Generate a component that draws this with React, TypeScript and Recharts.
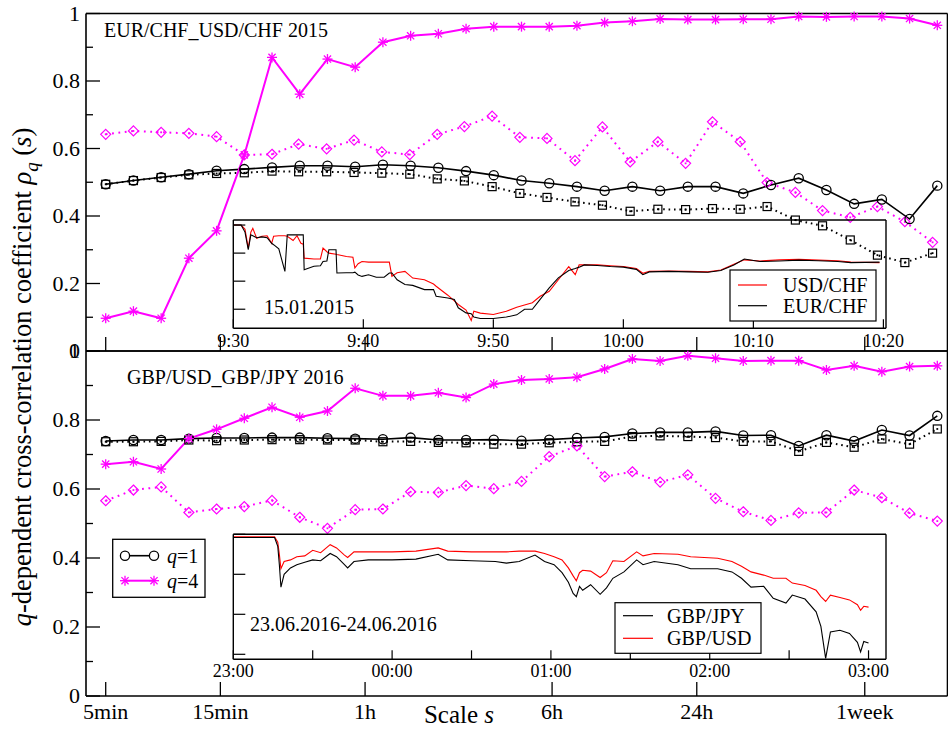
import React from 'react';
import { LineChart, Line, XAxis, YAxis } from 'recharts';

const W = 948;
const H = 731;
const FONT = '"Liberation Serif", "Times New Roman", serif';
const MAGENTA = '#ff00ff';
const RED = '#ff0000';
const AX = 0.5; // thickness reserved for each axis (must be > 0 for Recharts to draw it)

// ---------- main panels: scale index categories ----------
const SCALE_IDX = Array.from({ length: 31 }, (_, i) => i);
// x positions of the dotted series in the 2015 panel (slightly left of the grid)
const TOP_DOTTED_IDX = [0, 1, 2, 3, 4, 5, 6, 6.96, 7.97, 8.96, 9.96, 10.97, 11.96, 12.94, 13.94, 14.94, 15.92, 16.93, 17.92, 18.92, 19.92, 20.92, 21.89, 22.89, 23.86, 24.88, 25.86, 26.86, 27.84, 28.83, 29.83];

const X_TICK_MINUTES = [5, 15, 60, 360, 1440, 7200];
const X_TICK_LABELS = ['5min', '15min', '1h', '6h', '24h', '1week'];
const IDX_PER_DECADE = 8.67;
const X_TICK_IDX = X_TICK_MINUTES.map((m) => Math.log10(m / 5) * IDX_PER_DECADE);

const MAIN_Y_TICKS = [0, 0.1, 0.2, 0.3, 0.4, 0.5, 0.6, 0.7, 0.8, 0.9, 1];
const MAIN_Y_LABELED = [0, 0.2, 0.4, 0.6, 0.8, 1];

// EUR/CHF_USD/CHF 2015
const TOP_Q1 = [0.494, 0.505, 0.515, 0.524, 0.534, 0.539, 0.544, 0.549, 0.549, 0.546, 0.552, 0.549, 0.543, 0.533, 0.521, 0.505, 0.497, 0.487, 0.475, 0.487, 0.475, 0.487, 0.487, 0.467, 0.492, 0.512, 0.477, 0.436, 0.449, 0.391, 0.490];
const TOP_Q1_DOTTED = [0.494, 0.505, 0.514, 0.522, 0.526, 0.528, 0.533, 0.531, 0.531, 0.529, 0.527, 0.524, 0.510, 0.504, 0.487, 0.467, 0.455, 0.442, 0.432, 0.414, 0.420, 0.419, 0.422, 0.420, 0.428, 0.388, 0.371, 0.329, 0.284, 0.262, 0.290];
const TOP_Q4 = [0.097, 0.118, 0.097, 0.275, 0.356, 0.581, 0.870, 0.761, 0.865, 0.841, 0.915, 0.934, 0.940, 0.955, 0.961, 0.961, 0.961, 0.964, 0.973, 0.977, 0.984, 0.982, 0.982, 0.983, 0.983, 0.991, 0.990, 0.991, 0.991, 0.985, 0.965];
const TOP_Q4_DOTTED = [0.642, 0.652, 0.648, 0.645, 0.635, 0.581, 0.583, 0.613, 0.599, 0.625, 0.590, 0.582, 0.642, 0.665, 0.696, 0.633, 0.630, 0.564, 0.664, 0.560, 0.620, 0.556, 0.679, 0.620, 0.499, 0.470, 0.416, 0.396, 0.428, 0.383, 0.322];

// GBP/USD_GBP/JPY 2016
const BOT_Q1 = [0.739, 0.742, 0.742, 0.746, 0.748, 0.748, 0.749, 0.749, 0.747, 0.746, 0.744, 0.749, 0.742, 0.742, 0.743, 0.740, 0.743, 0.748, 0.751, 0.761, 0.764, 0.764, 0.767, 0.755, 0.756, 0.725, 0.756, 0.739, 0.771, 0.755, 0.812];
const BOT_Q1_DOTTED = [0.737, 0.737, 0.738, 0.742, 0.740, 0.742, 0.743, 0.743, 0.742, 0.742, 0.737, 0.738, 0.735, 0.734, 0.730, 0.730, 0.734, 0.737, 0.738, 0.752, 0.754, 0.752, 0.749, 0.738, 0.738, 0.709, 0.735, 0.721, 0.745, 0.730, 0.774];
const BOT_Q4 = [0.672, 0.679, 0.658, 0.746, 0.773, 0.805, 0.837, 0.808, 0.826, 0.892, 0.870, 0.870, 0.879, 0.865, 0.904, 0.916, 0.919, 0.924, 0.948, 0.977, 0.971, 0.986, 0.979, 0.971, 0.972, 0.972, 0.945, 0.957, 0.940, 0.955, 0.957];
const BOT_Q4_DOTTED = [0.566, 0.597, 0.606, 0.532, 0.542, 0.549, 0.567, 0.518, 0.486, 0.540, 0.542, 0.592, 0.590, 0.610, 0.601, 0.622, 0.694, 0.725, 0.636, 0.650, 0.620, 0.641, 0.573, 0.534, 0.509, 0.531, 0.532, 0.597, 0.575, 0.530, 0.507];

// ---------- inset 1: 15.01.2015, minutes after 9:30 ----------
const INSET1_MIN = [0, 0.6, 0.9, 1.15, 1.35, 1.5, 1.8, 2.2, 2.6, 2.95, 3.1, 3.5, 3.97, 4.15, 4.6, 4.9, 5.2, 5.38, 5.45, 6.2, 6.7, 6.9, 7.2, 7.35, 7.9, 7.97, 8.7, 9.2, 9.35, 9.6, 9.9, 10.4, 11.0, 11.6, 12.0, 12.2, 12.6, 13.2, 13.8, 14.7, 15.4, 15.6, 16.5, 17.0, 17.3, 17.9, 18.3, 18.5, 19.0, 20.0, 21.0, 21.8, 22.4, 23.0, 23.6, 24.3, 25.0, 25.8, 26.3, 26.6, 27.0, 28.0, 29.0, 30.0, 31.0, 31.5, 32.0, 33.5, 35.0, 36.5, 37.5, 38.5, 39.3, 40.5, 42.0, 43.5, 45.0, 46.5, 47.5, 49.7];
const INSET1_EURCHF = [1.0, 1.0, 0.975, 0.912, 0.965, 0.962, 0.955, 0.958, 0.955, 0.935, 0.93, 0.915, 0.835, 0.965, 0.965, 0.965, 0.965, 0.965, 0.841, 0.853, 0.855, 0.87, 0.872, 0.912, 0.912, 0.829, 0.83, 0.83, 0.832, 0.822, 0.817, 0.823, 0.814, 0.814, 0.829, 0.829, 0.805, 0.788, 0.785, 0.77, 0.77, 0.746, 0.74, 0.735, 0.705, 0.687, 0.684, 0.672, 0.667, 0.667, 0.672, 0.68, 0.7, 0.7, 0.735, 0.776, 0.812, 0.838, 0.845, 0.85, 0.858, 0.856, 0.852, 0.85, 0.842, 0.823, 0.833, 0.835, 0.833, 0.832, 0.838, 0.858, 0.879, 0.87, 0.872, 0.875, 0.873, 0.87, 0.866, 0.868];
const INSET1_USDCHF = [1.0, 1.0, 0.985, 0.918, 0.975, 0.988, 0.953, 0.96, 0.962, 0.935, 0.96, 0.962, 0.962, 0.96, 0.945, 0.962, 0.935, 0.932, 0.882, 0.879, 0.879, 0.918, 0.905, 0.9, 0.896, 0.895, 0.888, 0.885, 0.847, 0.862, 0.87, 0.868, 0.868, 0.868, 0.868, 0.817, 0.83, 0.835, 0.811, 0.805, 0.79, 0.782, 0.75, 0.73, 0.717, 0.697, 0.66, 0.693, 0.686, 0.681, 0.693, 0.707, 0.715, 0.723, 0.746, 0.764, 0.805, 0.852, 0.823, 0.858, 0.858, 0.858, 0.855, 0.852, 0.845, 0.828, 0.835, 0.836, 0.835, 0.833, 0.84, 0.86, 0.876, 0.872, 0.876, 0.878, 0.875, 0.873, 0.868, 0.866];
const INSET1_X_TICKS = [0, 10, 20, 30, 40, 50];
const INSET1_X_LABELS = ['9:30', '9:40', '9:50', '10:00', '10:10', '10:20'];
const INSET1_Y_TICKS = [0.7, 0.8, 0.9, 1];
const INSET1_Y_LABELED = [0.8, 1];

// ---------- inset 2: 23.06.2016-24.06.2016, hours after 23:00 ----------
const INSET2_H = [0, 0.26, 0.28, 0.29, 0.3, 0.32, 0.36, 0.4, 0.45, 0.5, 0.55, 0.61, 0.65, 0.7, 0.72, 0.76, 0.85, 1.0, 1.15, 1.29, 1.35, 1.5, 1.65, 1.72, 1.8, 1.9, 1.96, 2.02, 2.07, 2.11, 2.14, 2.16, 2.18, 2.2, 2.25, 2.31, 2.35, 2.39, 2.46, 2.54, 2.58, 2.65, 2.8, 2.88, 3.05, 3.14, 3.2, 3.26, 3.34, 3.4, 3.48, 3.52, 3.6, 3.67, 3.7, 3.73, 3.76, 3.82, 3.88, 3.93, 3.95, 3.97, 4.0];
const INSET2_GBPJPY = [0.996, 0.996, 0.985, 0.962, 0.934, 0.95, 0.958, 0.962, 0.965, 0.968, 0.967, 0.976, 0.972, 0.962, 0.958, 0.966, 0.968, 0.968, 0.969, 0.975, 0.968, 0.967, 0.966, 0.964, 0.966, 0.974, 0.966, 0.962, 0.952, 0.94, 0.926, 0.922, 0.935, 0.93, 0.937, 0.925, 0.933, 0.945, 0.953, 0.968, 0.962, 0.966, 0.962, 0.957, 0.957, 0.953, 0.945, 0.934, 0.935, 0.92, 0.914, 0.924, 0.919, 0.903, 0.885, 0.845, 0.878, 0.88, 0.876, 0.865, 0.853, 0.866, 0.864];
const INSET2_GBPUSD = [0.997, 0.997, 0.99, 0.975, 0.957, 0.966, 0.968, 0.972, 0.973, 0.98, 0.977, 0.987, 0.983, 0.974, 0.971, 0.978, 0.978, 0.978, 0.979, 0.983, 0.979, 0.978, 0.978, 0.978, 0.979, 0.979, 0.976, 0.972, 0.968, 0.958, 0.948, 0.942, 0.952, 0.955, 0.954, 0.946, 0.952, 0.967, 0.966, 0.978, 0.973, 0.976, 0.975, 0.972, 0.97, 0.966, 0.96, 0.953, 0.949, 0.945, 0.945, 0.939, 0.936, 0.93, 0.922, 0.916, 0.924, 0.921, 0.918, 0.912, 0.905, 0.91, 0.909];
const INSET2_X_TICKS = [0, 0.5, 1, 1.5, 2, 2.5, 3, 3.5, 4];
const INSET2_X_LABELED: Record<string, string> = { '0': '23:00', '1': '00:00', '2': '01:00', '3': '02:00', '4': '03:00' };
const INSET2_Y_TICKS = [0.85, 0.9, 0.95, 1];
const INSET2_Y_LABELED = [0.9, 1];

// ---------- helpers ----------
const pts = (xs: number[], ys: number[]) => xs.map((x, i) => ({ x, y: ys[i] }));
const fmtY = (v: number) => (v === 0 ? '0' : v === 1 ? '1' : v.toFixed(1));
const near = (a: number, list: number[]) => list.some((b) => Math.abs(a - b) < 1e-6);

const CircleDot = (p: any) =>
  p.cx == null ? <g key={`c${p.index}`} /> : <circle key={`c${p.index}`} cx={p.cx} cy={p.cy} r={4.6} fill="none" stroke="#000" strokeWidth={1.3} />;
const SquareDot = (p: any) =>
  p.cx == null ? <g key={`s${p.index}`} /> : (
    <g key={`s${p.index}`}>
      <rect x={p.cx - 4} y={p.cy - 4} width={8} height={8} fill="none" stroke="#000" strokeWidth={1.2} />
      <rect x={p.cx - 0.9} y={p.cy - 0.9} width={1.8} height={1.8} fill="#000" />
    </g>
  );
const StarShape = ({ cx, cy, color }: { cx: number; cy: number; color: string }) => (
  <g stroke={color} strokeWidth={1.3}>
    <line x1={cx - 5} x2={cx + 5} y1={cy} y2={cy} />
    <line x1={cx} x2={cx} y1={cy - 5} y2={cy + 5} />
    <line x1={cx - 3.6} x2={cx + 3.6} y1={cy - 3.6} y2={cy + 3.6} />
    <line x1={cx - 3.6} x2={cx + 3.6} y1={cy + 3.6} y2={cy - 3.6} />
  </g>
);
const StarDot = (p: any) =>
  p.cx == null ? <g key={`t${p.index}`} /> : <g key={`t${p.index}`}><StarShape cx={p.cx} cy={p.cy} color={MAGENTA} /></g>;
const DiamondDot = (p: any) =>
  p.cx == null ? <g key={`d${p.index}`} /> : (
    <g key={`d${p.index}`}>
      <path d={`M${p.cx},${p.cy - 5} L${p.cx + 5},${p.cy} L${p.cx},${p.cy + 5} L${p.cx - 5},${p.cy} Z`} fill="none" stroke={MAGENTA} strokeWidth={1.2} />
      <rect x={p.cx - 0.9} y={p.cy - 0.9} width={1.8} height={1.8} fill={MAGENTA} />
    </g>
  );

type Series = { data: { x: number; y: number }[]; stroke: string; width: number; dash?: string; dot: any };

type PanelProps = {
  left: number; right: number; top: number; bottom: number;
  xDomain: [number, number]; yDomain: [number, number];
  xTicks: number[]; yTicks: number[];
  xTickTop: any; xTickBottom: any; yTickLeft: any; yTickRight: any;
  frameWidth: number;
  series: Series[];
};

function Panel(props: PanelProps) {
  const { left, right, top, bottom, xDomain, yDomain, xTicks, yTicks, frameWidth, series } = props;
  const axisLine = { stroke: '#000', strokeWidth: frameWidth };
  return (
    <div style={{ position: 'absolute', left: 0, top: 0, width: W, height: H }}>
      <LineChart width={W} height={H} margin={{ top: top - AX, bottom: H - bottom - AX, left: left - AX, right: W - right - AX }}>
        <XAxis xAxisId="b" type="number" dataKey="x" orientation="bottom" domain={xDomain} ticks={xTicks} interval={0} height={AX} axisLine={axisLine} tickLine={false} tick={props.xTickBottom} />
        <XAxis xAxisId="t" type="number" dataKey="x" orientation="top" domain={xDomain} ticks={xTicks} interval={0} height={AX} axisLine={axisLine} tickLine={false} tick={props.xTickTop} />
        <YAxis yAxisId="l" type="number" orientation="left" domain={yDomain} ticks={yTicks} interval={0} width={AX} axisLine={axisLine} tickLine={false} tick={props.yTickLeft} />
        <YAxis yAxisId="r" type="number" orientation="right" domain={yDomain} ticks={yTicks} interval={0} width={AX} axisLine={axisLine} tickLine={false} tick={props.yTickRight} />
        {series.map((s, i) => (
          <Line key={i} xAxisId="b" yAxisId="l" data={s.data} dataKey="y" type="linear" stroke={s.stroke} strokeWidth={s.width} strokeDasharray={s.dash} dot={s.dot} activeDot={false} isAnimationActive={false} />
        ))}
      </LineChart>
    </div>
  );
}

const coord = (p: any) => (p.payload && p.payload.coordinate != null ? p.payload.coordinate : p.x);
const coordY = (p: any) => (p.payload && p.payload.coordinate != null ? p.payload.coordinate : p.y);

// main panel ticks
const mainYTick = (edge: number, dir: 1 | -1, labels: boolean) => (p: any) => {
  const y = coordY(p);
  const v = p.payload.value;
  const major = near(v, MAIN_Y_LABELED);
  const len = major ? 14 : 7;
  return (
    <g>
      <line x1={edge} x2={edge + dir * len} y1={y} y2={y} stroke="#000" strokeWidth={1.3} />
      {labels && major && (
        <text x={edge - 6} y={y} dy="0.34em" textAnchor="end" fontFamily={FONT} fontSize={22} fill="#000">{fmtY(v)}</text>
      )}
    </g>
  );
};
const mainXTick = (edge: number, dir: 1 | -1, labels: boolean) => (p: any) => {
  const x = coord(p);
  const v = p.payload.value;
  const k = X_TICK_IDX.findIndex((t) => Math.abs(t - v) < 1e-6);
  return (
    <g>
      <line x1={x} x2={x} y1={edge} y2={edge + dir * 14} stroke="#000" strokeWidth={1.3} />
      {labels && k >= 0 && (
        <text x={x} y={719} textAnchor="middle" fontFamily={FONT} fontSize={22} fill="#000">{X_TICK_LABELS[k]}</text>
      )}
    </g>
  );
};

// inset ticks
const insetYTick = (edge: number, dir: 1 | -1, len: number, labeled: number[] | null, labelX: number) => (p: any) => {
  const y = coordY(p);
  const v = p.payload.value;
  return (
    <g>
      <line x1={edge} x2={edge + dir * len} y1={y} y2={y} stroke="#000" strokeWidth={1.2} />
      {labeled && near(v, labeled) && (
        <text x={labelX} y={y} dy="0.34em" textAnchor="start" fontFamily={FONT} fontSize={18} fill="#000">{fmtY(v)}</text>
      )}
    </g>
  );
};
const insetXTick = (edge: number, dir: 1 | -1, label: ((v: number) => string | null) | null, labelY: number) => (p: any) => {
  const x = coord(p);
  const v = p.payload.value;
  const t = label ? label(v) : null;
  return (
    <g>
      <line x1={x} x2={x} y1={edge} y2={edge + dir * 9} stroke="#000" strokeWidth={1.2} />
      {t && (
        <text x={x} y={labelY} textAnchor="middle" fontFamily={FONT} fontSize={18} fill="#000">{t}</text>
      )}
    </g>
  );
};

const MAIN_LEFT = 86;
const MAIN_RIGHT = 947.5;
const MAIN_XDOMAIN: [number, number] = [-0.711, 30.368];

function mainSeries(q1: number[], q1d: number[], q4: number[], q4d: number[], dottedX: number[]): Series[] {
  return [
    { data: pts(dottedX, q1d), stroke: '#000', width: 2, dash: '1.6 3.8', dot: SquareDot },
    { data: pts(dottedX, q4d), stroke: MAGENTA, width: 2, dash: '1.8 4.6', dot: DiamondDot },
    { data: pts(SCALE_IDX, q1), stroke: '#000', width: 1.6, dot: CircleDot },
    { data: pts(SCALE_IDX, q4), stroke: MAGENTA, width: 2, dot: StarDot },
  ];
}

function Overlay() {
  const t = { fontFamily: FONT, fill: '#000' } as const;
  return (
    <svg width={W} height={H} style={{ position: 'absolute', left: 0, top: 0, pointerEvents: 'none' }}>
      <text x={104} y={37} fontSize={20} {...t}>EUR/CHF_USD/CHF 2015</text>
      <text x={127} y={384} fontSize={20} {...t}>GBP/USD_GBP/JPY 2016</text>
      <text x={264} y={314} fontSize={20} {...t}>15.01.2015</text>
      <text x={250} y={631} fontSize={20} {...t}>23.06.2016-24.06.2016</text>

      {/* y axis title */}
      <text transform="translate(31,377) rotate(-90)" textAnchor="middle" fontSize={26.5} {...t}>
        <tspan fontStyle="italic">q</tspan>-dependent cross-correlation coefficient <tspan fontStyle="italic">ρ</tspan>
        <tspan fontStyle="italic" fontSize={19} dy={7}>q</tspan>
        <tspan dy={-7}> (</tspan><tspan fontStyle="italic">s</tspan>)
      </text>
      {/* x axis title */}
      <text x={459} y={723} textAnchor="middle" fontSize={25} {...t}>Scale <tspan fontStyle="italic">s</tspan></text>

      {/* main legend */}
      <rect x={112.7} y={539.3} width={92.3} height={58} fill="#fff" stroke="#000" strokeWidth={1.3} />
      <line x1={125} x2={154} y1={555.7} y2={555.7} stroke="#000" strokeWidth={1.6} />
      <circle cx={125} cy={555.7} r={4.6} fill="#fff" stroke="#000" strokeWidth={1.3} />
      <circle cx={154} cy={555.7} r={4.6} fill="#fff" stroke="#000" strokeWidth={1.3} />
      <text x={167} y={562.5} fontSize={20} {...t}><tspan fontStyle="italic">q</tspan>=1</text>
      <line x1={125} x2={154} y1={580.7} y2={580.7} stroke={MAGENTA} strokeWidth={2} />
      <StarShape cx={125} cy={580.7} color={MAGENTA} />
      <StarShape cx={154} cy={580.7} color={MAGENTA} />
      <text x={167} y={587.5} fontSize={20} {...t}><tspan fontStyle="italic">q</tspan>=4</text>

      {/* inset 1 legend */}
      <rect x={730} y={270} width={146} height={51} fill="#fff" stroke="#000" strokeWidth={1.2} />
      <line x1={738} x2={767} y1={285} y2={285} stroke={RED} strokeWidth={1.2} />
      <text x={783} y={292} fontSize={20} {...t}>USD/CHF</text>
      <line x1={738} x2={767} y1={305.7} y2={305.7} stroke="#000" strokeWidth={1.2} />
      <text x={783} y={312.5} fontSize={20} {...t}>EUR/CHF</text>

      {/* inset 2 legend */}
      <rect x={615} y={602.7} width={146} height={50.6} fill="#fff" stroke="#000" strokeWidth={1.2} />
      <line x1={623} x2={653} y1={615.7} y2={615.7} stroke="#000" strokeWidth={1.2} />
      <text x={667} y={622.5} fontSize={20} {...t}>GBP/JPY</text>
      <line x1={623} x2={653} y1={638.3} y2={638.3} stroke={RED} strokeWidth={1.2} />
      <text x={667} y={645} fontSize={20} {...t}>GBP/USD</text>
    </svg>
  );
}

export default function App() {
  const topMain = { top: 13.5, bottom: 351 };
  const botMain = { top: 351, bottom: 696 };
  const in1 = { left: 233.3, right: 886, top: 220, bottom: 328.3 };
  const in2 = { left: 233.3, right: 886, top: 534.3, bottom: 659.3 };
  return (
    <div style={{ position: 'absolute', left: 0, top: 0, width: W, height: H, background: '#fff', overflow: 'hidden' }}>
      <Panel
        left={MAIN_LEFT} right={MAIN_RIGHT} top={topMain.top} bottom={topMain.bottom}
        xDomain={MAIN_XDOMAIN} yDomain={[0, 1]} xTicks={X_TICK_IDX} yTicks={MAIN_Y_TICKS}
        xTickTop={mainXTick(topMain.top, 1, false)} xTickBottom={mainXTick(topMain.bottom, -1, false)}
        yTickLeft={mainYTick(MAIN_LEFT, 1, true)} yTickRight={mainYTick(MAIN_RIGHT, -1, false)}
        frameWidth={1.6}
        series={mainSeries(TOP_Q1, TOP_Q1_DOTTED, TOP_Q4, TOP_Q4_DOTTED, TOP_DOTTED_IDX)}
      />
      <Panel
        left={MAIN_LEFT} right={MAIN_RIGHT} top={botMain.top} bottom={botMain.bottom}
        xDomain={MAIN_XDOMAIN} yDomain={[0, 1]} xTicks={X_TICK_IDX} yTicks={MAIN_Y_TICKS}
        xTickTop={mainXTick(botMain.top, 1, false)} xTickBottom={mainXTick(botMain.bottom, -1, true)}
        yTickLeft={mainYTick(MAIN_LEFT, 1, true)} yTickRight={mainYTick(MAIN_RIGHT, -1, false)}
        frameWidth={1.6}
        series={mainSeries(BOT_Q1, BOT_Q1_DOTTED, BOT_Q4, BOT_Q4_DOTTED, SCALE_IDX)}
      />
      <Panel
        left={in1.left} right={in1.right} top={in1.top} bottom={in1.bottom}
        xDomain={[0, 50.2]} yDomain={[0.632, 1.018]} xTicks={INSET1_X_TICKS} yTicks={INSET1_Y_TICKS}
        xTickTop={insetXTick(in1.top, 1, null, 0)}
        xTickBottom={insetXTick(in1.bottom, -1, (v) => INSET1_X_LABELS[INSET1_X_TICKS.indexOf(v)] || null, in1.bottom + 19)}
        yTickLeft={insetYTick(in1.left, 1, 12, null, 0)}
        yTickRight={insetYTick(in1.right, -1, 8, INSET1_Y_LABELED, in1.right + 6.5)}
        frameWidth={1.4}
        series={[
          { data: pts(INSET1_MIN, INSET1_USDCHF), stroke: RED, width: 1.1, dot: false },
          { data: pts(INSET1_MIN, INSET1_EURCHF), stroke: '#000', width: 1.1, dot: false },
        ]}
      />
      <Panel
        left={in2.left} right={in2.right} top={in2.top} bottom={in2.bottom}
        xDomain={[0, 4.11]} yDomain={[0.84375, 1]} xTicks={INSET2_X_TICKS} yTicks={INSET2_Y_TICKS}
        xTickTop={insetXTick(in2.top, 1, null, 0)}
        xTickBottom={insetXTick(in2.bottom, -1, (v) => INSET2_X_LABELED[String(v)] || null, in2.bottom + 18)}
        yTickLeft={insetYTick(in2.left, 1, 12, null, 0)}
        yTickRight={insetYTick(in2.right, -1, 8, INSET2_Y_LABELED, in2.right + 6.5)}
        frameWidth={1.4}
        series={[
          { data: pts(INSET2_H, INSET2_GBPUSD), stroke: RED, width: 1.1, dot: false },
          { data: pts(INSET2_H, INSET2_GBPJPY), stroke: '#000', width: 1.1, dot: false },
        ]}
      />
      <Overlay />
    </div>
  );
}
